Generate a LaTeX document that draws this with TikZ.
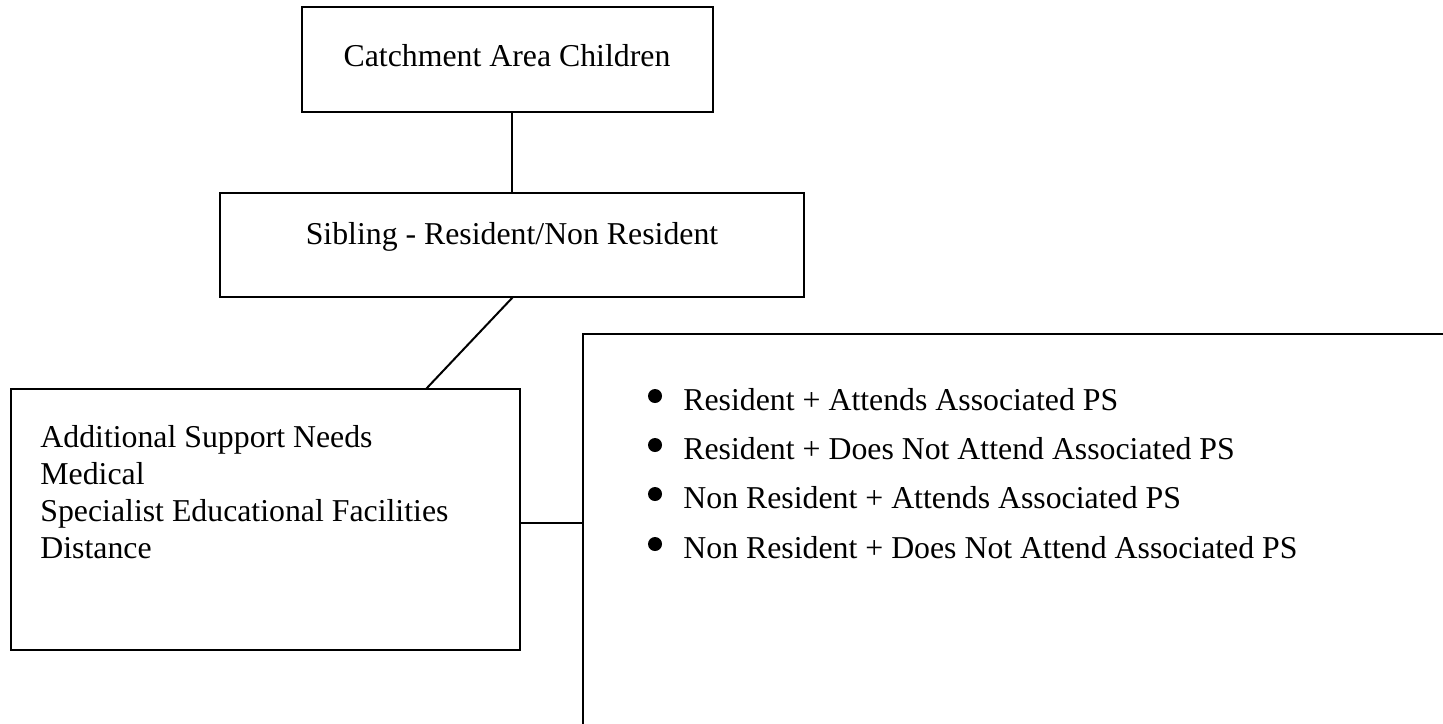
\documentclass[tikz,border=0pt]{standalone}
\usepackage{fontspec}
\setmainfont{Liberation Serif}
\begin{document}
\begin{tikzpicture}[x=0.5pt,y=-0.5pt,
  box/.style={draw, line width=1pt, inner sep=0pt, outer sep=0pt, anchor=north west},
  txt/.style={inner sep=0pt, font=\fontsize{15.9pt}{18pt}\selectfont},
  dot/.style={circle, fill=black, inner sep=0pt, minimum size=7pt},
  conn/.style={line width=1pt}]
\clip (0,0) rectangle (1443,723);
% boxes
\node[box, minimum width=205.5pt, minimum height=52.5pt] (b1) at (302,7) {};
\node[box, minimum width=292pt, minimum height=52pt] (b2) at (220,193) {};
\node[box, minimum width=254.75pt, minimum height=130.5pt] (b3) at (10.5,389) {};
\node[box, minimum width=450pt, minimum height=225pt] (b4) at (583,334) {};
% texts
\node[txt, anchor=base] (t1) at (507,66) {Catchment Area Children};
\node[txt, anchor=base] (t2) at (512,244) {Sibling - Resident/Non Resident};
\node[txt, anchor=base west] (l1) at (40,447) {Additional Support Needs};
\node[txt, anchor=base west] (l2) at (40,484) {Medical};
\node[txt, anchor=base west] (l3) at (40,521) {Specialist Educational Facilities};
\node[txt, anchor=base west] (l4) at (40,558) {Distance};
% bullets
\node[dot] (d1) at (655,396) {};
\node[dot] (d2) at (655,445) {};
\node[dot] (d3) at (655,494) {};
\node[dot] (d4) at (655,544) {};
\node[txt, anchor=base west] (r1) at (683,410) {Resident + Attends Associated PS};
\node[txt, anchor=base west] (r2) at (683,459) {Resident + Does Not Attend Associated PS};
\node[txt, anchor=base west] (r3) at (683,508) {Non Resident + Attends Associated PS};
\node[txt, anchor=base west] (r4) at (683,558) {Non Resident + Does Not Attend Associated PS};
% connectors
\draw[conn] ([xshift=105pt]b1.south west) -- ([xshift=146pt]b2.north west);
\draw[conn] ([xshift=146.5pt]b2.south west) -- ([xshift=207.75pt]b3.north west);
\draw[conn] ([yshift=-67pt]b3.north east) -- ([yshift=-94.5pt]b4.north west);
\end{tikzpicture}
\end{document}
